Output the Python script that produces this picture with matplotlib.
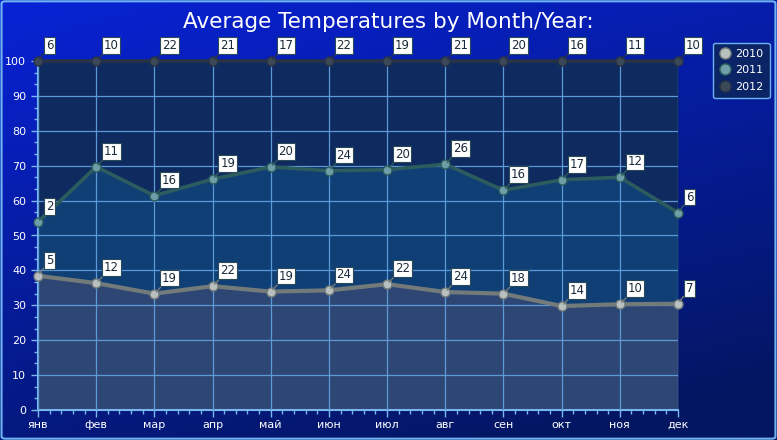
import numpy as np
import matplotlib
matplotlib.use("Agg")
import matplotlib.pyplot as plt
from matplotlib.patches import FancyBboxPatch
from matplotlib.lines import Line2D
from matplotlib.ticker import MultipleLocator, AutoMinorLocator

months = ["янв", "фев", "мар", "апр", "май", "июн", "июл", "авг", "сен", "окт", "ноя", "дек"]
series_names = ["2010", "2011", "2012"]
v2010 = [5, 12, 19, 22, 19, 24, 22, 24, 18, 14, 10, 7]
v2011 = [2, 11, 16, 19, 20, 24, 20, 26, 16, 17, 12, 6]
v2012 = [6, 10, 22, 21, 17, 22, 19, 21, 20, 16, 11, 10]
title = "Average Temperatures by Month/Year:"

fill_colors = ["#2e4674", "#0f3f75", "#0f2a5e"]
line_colors = ["#737b7a", "#2c5c5e", "#283246"]
marker_colors = ["#b8c0c0", "#6e9ea8", "#3a4858"]

W, H = 777, 440
fig = plt.figure(figsize=(W / 100, H / 100), dpi=100)

# background gradient
bg = fig.add_axes([0, 0, 1, 1], zorder=-10)
yy, xx = np.mgrid[0:1:200j, 0:1:300j]
t = np.clip(0.75 * yy + 0.35 * xx, 0, 1)
top = np.array([8, 34, 214]) / 255
bot = np.array([3, 22, 98]) / 255
img = top[None, None, :] * (1 - t[..., None]) + bot[None, None, :] * t[..., None]
bg.imshow(img, aspect="auto", extent=[0, 1, 0, 1], origin="upper")
bg.set_xlim(0, 1); bg.set_ylim(0, 1)
bg.axis("off")
bg.add_patch(FancyBboxPatch((0.002, 0.003), 0.996, 0.994, boxstyle="round,pad=0,rounding_size=0.005",
                            fill=False, ec="#6fb4f0", lw=1.5, transform=bg.transAxes))

ax = fig.add_axes([38 / W, 30 / H, (678 - 38) / W, (410 - 61) / H])
ax.set_facecolor("none")

data = np.array([v2010, v2011, v2012], dtype=float)
tot = data.sum(axis=0)
cum = np.cumsum(data, axis=0) / tot * 100
x = np.arange(len(months))

prev = np.zeros(len(months))
for i in range(3):
    ax.fill_between(x, prev, cum[i], color=fill_colors[i], lw=0, zorder=1)
    prev = cum[i]

ax.grid(True, color="#5b9ad6", lw=0.9, zorder=2)
ax.set_axisbelow(False)

for i in range(3):
    ax.plot(x, cum[i], color=line_colors[i], lw=3.0 if i == 0 else 2.6, zorder=3, clip_on=False,
            solid_capstyle="butt")
    ax.plot(x, cum[i], "o", ms=6.5, mfc=marker_colors[i], mec=line_colors[i], mew=1, zorder=4, clip_on=False)
    for xi, yi, v in zip(x, cum[i], data[i]):
        ax.annotate(str(int(v)), xy=(xi, yi), xytext=(5.5, 6.5), textcoords="offset points",
                    ha="left", va="bottom", fontsize=8.5, color="#1a2a3a",
                    bbox=dict(boxstyle="square,pad=0.15", fc="white", ec="#2a4a5a", lw=0.8),
                    arrowprops=dict(arrowstyle="-", color=line_colors[i], lw=1.0, shrinkA=0, shrinkB=2),
                    annotation_clip=False, zorder=6)

ax.set_xlim(0, 11)
ax.set_ylim(0, 100)
ax.set_xticks(x)
ax.set_xticklabels(months)
ax.yaxis.set_major_locator(MultipleLocator(10))
ax.yaxis.set_minor_locator(AutoMinorLocator(3))
ax.xaxis.set_minor_locator(AutoMinorLocator(5))
ax.tick_params(axis="both", which="both", colors="#7ab8f0", labelcolor="white", labelsize=8, direction="out")
ax.tick_params(axis="both", which="major", length=5, width=1)
ax.tick_params(axis="both", which="minor", length=3, width=1)
ax.tick_params(axis="x", pad=2)
for s in ["top", "right"]:
    ax.spines[s].set_visible(False)
for s in ["left", "bottom"]:
    ax.spines[s].set_color("#7ab8f0")
    ax.spines[s].set_linewidth(1.5)

fig.text(388 / W, 1 - 22 / H, title, ha="center", va="center", color="white", fontsize=15.5)

handles = [Line2D([0], [0], marker="o", ls="none", ms=8, mfc=marker_colors[i], mec=line_colors[i])
           for i in range(3)]
leg = fig.legend(handles, series_names, loc="upper left", bbox_to_anchor=(707 / W, 1 - 37 / H),
                 frameon=True, fontsize=8, labelcolor="white", handletextpad=0.3, borderpad=0.55,
                 labelspacing=0.6, handlelength=1.2, fancybox=True)
leg.get_frame().set_facecolor("#0a2466")
leg.get_frame().set_edgecolor("#6fb4f0")
leg.get_frame().set_alpha(1)

fig.savefig("out.png", dpi=100)
